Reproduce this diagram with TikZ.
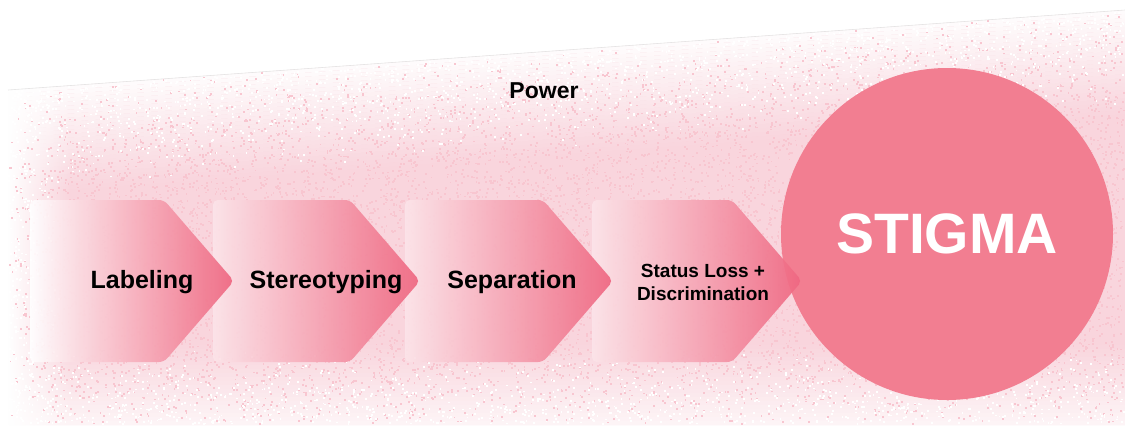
\documentclass[tikz,border=0pt]{standalone}
\usepackage{fontspec}
\setmainfont{Liberation Sans}
\usetikzlibrary{fadings,calc}

\definecolor{grain}{RGB}{248,198,208}
\definecolor{haze}{RGB}{249,213,221}
\definecolor{chevlight}{RGB}{252,228,233}
\definecolor{chevmid}{RGB}{246,182,195}
\definecolor{chevdeep}{RGB}{239,102,128}
\definecolor{stigmafill}{RGB}{242,126,145}

\tikzset{
  chevron/.style={rounded corners=5pt, fill opacity=0.92, left color=chevlight, middle color=chevmid, right color=chevdeep},
  steplabel/.style={font=\bfseries\fontsize{25}{28}\selectfont, text=black, inner sep=0pt},
  smalllabel/.style={font=\bfseries\fontsize{19}{23}\selectfont, text=black, inner sep=0pt, align=center},
}

% a random point of the field and the grain density there
\newcommand\grainpoint{%
  \pgfmathsetmacro\gx{8+1115*rnd}%
  \pgfmathsetmacro\gtop{90-0.0716*(\gx-8)}%
  \pgfmathsetmacro\gy{\gtop+(423-\gtop)*rnd}%
  \pgfmathsetmacro\gd{min(1,0.1+(\gy-\gtop)/110)*min(1,0.15+(425-\gy)/90)*min(1,0.15+(\gx-8)/60)}%
}

\begin{document}
\begin{tikzpicture}[x=1pt,y=-1pt]
\useasboundingbox (0,0) rectangle (1125,429);

% grainy field of power behind the process
\coordinate (tl) at (8,90);
\coordinate (tr) at (1125,10);
\coordinate (br) at (1125,425);
\coordinate (bl) at (8,425);
\fill[haze] (tl) -- (tr) -- (br) -- (bl) -- cycle;
% lighter towards the slanted top edge
\foreach \i in {0,...,25}{
  \pgfmathsetmacro\op{0.92*(1-\i/26)}
  \fill[white, opacity=\op] ($(tl)+(0,4*\i)$) -- ($(tr)+(0,4*\i)$) -- ($(tr)+(0,4*\i+4)$) -- ($(tl)+(0,4*\i+4)$) -- cycle;
}
% lighter towards the bottom
\foreach \j in {0,...,19}{
  \pgfmathsetmacro\op{0.75*(\j+1)/20}
  \fill[white, opacity=\op] (8,345+4*\j) rectangle (1125,349+4*\j);
}
\fill[white, path fading=east] (8,10) rectangle (70,429);

% pink specks where the field is dense, white specks where it is thin
\pgfmathsetseed{42}
\begin{pgfscope}
\pgfsetfillcolor{grain}
\foreach \k in {1,...,14000}{
  \grainpoint
  \pgfmathsetmacro\gc{rnd<\gd ? 1 : 0}
  \ifdim\gc pt>0.5pt
    \pgfpathrectangle{\pgfqpoint{\gx pt}{-\gy pt}}{\pgfqpoint{1.8pt}{-1.8pt}}\pgfusepath{fill}
  \fi
}
\end{pgfscope}
\begin{pgfscope}
\pgfsetfillcolor{white}
\foreach \k in {1,...,14000}{
  \grainpoint
  \pgfmathsetmacro\gc{rnd<\gd ? 1 : 0}
  \ifdim\gc pt<0.5pt
    \pgfpathrectangle{\pgfqpoint{\gx pt}{-\gy pt}}{\pgfqpoint{1.8pt}{-1.8pt}}\pgfusepath{fill}
  \fi
}
\end{pgfscope}
\draw[black!10, line width=0.6pt] (tl) -- (tr);

% outcome
\node[circle, fill=stigmafill, minimum size=332pt, inner sep=0pt,
      text=white, font=\bfseries\fontsize{57}{60}\selectfont] (stigma) at (947,234) {STIGMA};

% process steps, drawn right to left so each tip lies over the next step
\shade[chevron] (592,200) -- (732,200) -- (802,281) -- (732,362) -- (592,362) -- cycle;
\shade[chevron] (405,200) -- (543,200) -- (613,281) -- (543,362) -- (405,362) -- cycle;
\shade[chevron] (213,200) -- (350,200) -- (420,281) -- (350,362) -- (213,362) -- cycle;
\shade[chevron, left color=white] (30,200) -- (164,200) -- (234,281) -- (164,362) -- (30,362) -- cycle;

\node[steplabel] (labeling) at (142,282) {Labeling};
\node[steplabel] (stereo) at (326,282) {Stereotyping};
\node[steplabel] (separation) at (512,282) {Separation};
\node[smalllabel] (status) at (703,282) {Status Loss +\\Discrimination};

\node[font=\bfseries\fontsize{23}{26}\selectfont, inner sep=0pt] (power) at (544,91) {Power};
\end{tikzpicture}
\end{document}
